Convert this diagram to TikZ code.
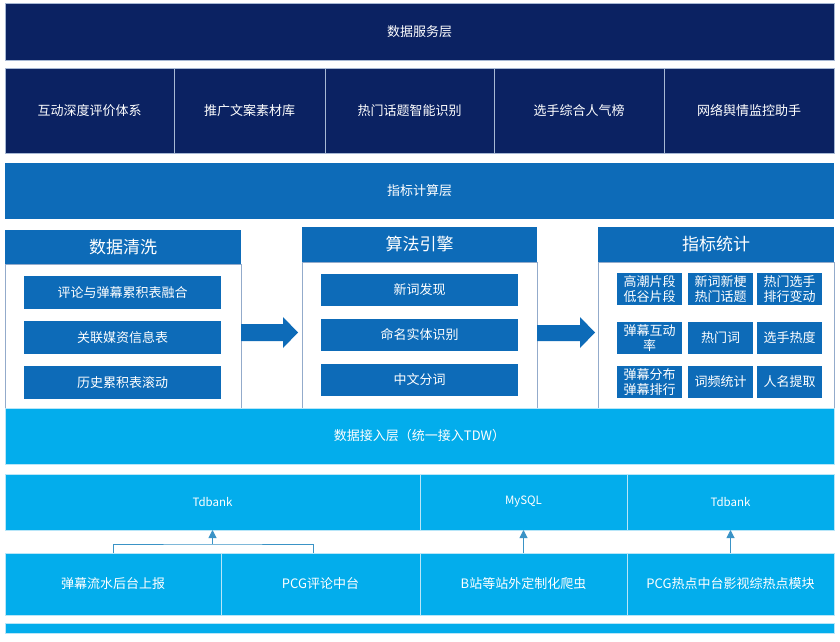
\documentclass[tikz,border=0pt]{standalone}
\usepackage{fontspec}
\newfontfamily\cjk{Noto Sans CJK SC}
\usetikzlibrary{arrows.meta}
\definecolor{navy}{HTML}{0B2262}
\definecolor{midblue}{HTML}{0D6BB8}
\definecolor{skyblue}{HTML}{03ADEC}
\definecolor{linkblue}{HTML}{3A93C6}
\definecolor{panelline}{HTML}{93ABCB}
\definecolor{navyline}{HTML}{A7B8D4}
\definecolor{skyline}{HTML}{B8E6F8}
\tikzset{
  cell/.style={inner sep=0pt, outer sep=0pt, anchor=north west, text=white, align=center,
    font=\cjk\fontsize{13}{16}\selectfont},
  navycell/.style={cell, fill=navy, draw=navyline, line width=0.7pt},
  midcell/.style={cell, fill=midblue},
  skycell/.style={cell, fill=skyblue, draw=skyline, line width=0.7pt},
  lat/.style={font=\cjk\fontsize{11.5}{14}\selectfont},
  header/.style={cell, fill=midblue, font=\cjk\fontsize{17}{20}\selectfont},
  panelbody/.style={inner sep=0pt, outer sep=0pt, anchor=north west, fill=white, draw=panelline, line width=0.7pt},
  gridcell/.style={midcell, font=\cjk\fontsize{13}{15}\selectfont, minimum width=65pt, minimum height=32pt},
  link/.style={draw=linkblue, line width=1pt},
  uparrow/.style={link, -{Triangle[width=8pt,length=8pt]}},
  blockarrow/.style={fill=midblue}
}
\begin{document}
\begin{tikzpicture}[x=1pt,y=-1pt]
\useasboundingbox (0,0) rectangle (840,642);
\fill[white] (0,0) rectangle (840,642);

% Data service layer
\node[navycell, minimum width=829pt, minimum height=57pt] (svc) at (5,3) {数据服务层};
\node[navycell, minimum width=169pt, minimum height=85pt] (s1) at (5,68) {互动深度评价体系};
\node[navycell, minimum width=151pt, minimum height=85pt] (s2) at (174,68) {推广文案素材库};
\node[navycell, minimum width=169pt, minimum height=85pt] (s3) at (325,68) {热门话题智能识别};
\node[navycell, minimum width=170pt, minimum height=85pt] (s4) at (494,68) {选手综合人气榜};
\node[navycell, minimum width=170pt, minimum height=85pt] (s5) at (664,68) {网络舆情监控助手};

% Indicator computing layer
\node[midcell, minimum width=829pt, minimum height=56pt] (calc) at (5,163) {指标计算层};

% Panel 1
\node[panelbody, minimum width=236pt, minimum height=144pt] (p1body) at (5,264) {};
\node[header, minimum width=236pt, minimum height=34pt] (p1head) at (5,230) {数据清洗};
\node[midcell, minimum width=197pt, minimum height=33pt] (c1) at (24,276) {评论与弹幕累积表融合};
\node[midcell, minimum width=197pt, minimum height=33pt] (c2) at (24,321) {关联媒资信息表};
\node[midcell, minimum width=197pt, minimum height=33pt] (c3) at (24,366) {历史累积表滚动};

% Panel 2
\node[panelbody, minimum width=235pt, minimum height=146pt] (p2body) at (302,262) {};
\node[header, minimum width=235pt, minimum height=35pt] (p2head) at (302,227) {算法引擎};
\node[midcell, minimum width=197pt, minimum height=32pt] (a1) at (321,274) {新词发现};
\node[midcell, minimum width=197pt, minimum height=32pt] (a2) at (321,319) {命名实体识别};
\node[midcell, minimum width=197pt, minimum height=32pt] (a3) at (321,364) {中文分词};

% Panel 3
\node[panelbody, minimum width=236pt, minimum height=146pt] (p3body) at (598,262) {};
\node[header, minimum width=236pt, minimum height=35pt] (p3head) at (598,227) {指标统计};
\node[gridcell] (g11) at (617,273) {高潮片段\\低谷片段};
\node[gridcell] (g12) at (688,273) {新词新梗\\热门话题};
\node[gridcell] (g13) at (757,273) {热门选手\\排行变动};
\node[gridcell] (g21) at (617,322) {弹幕互动\\率};
\node[gridcell] (g22) at (688,322) {热门词};
\node[gridcell] (g23) at (757,322) {选手热度};
\node[gridcell] (g31) at (617,366) {弹幕分布\\弹幕排行};
\node[gridcell] (g32) at (688,366) {词频统计};
\node[gridcell] (g33) at (757,366) {人名提取};

% Block arrows
\fill[blockarrow] (241,324) -- (283,324) -- (283,317) -- (298,332.5) -- (283,348) -- (283,341) -- (241,341) -- cycle;
\fill[blockarrow] (537,325) -- (580,325) -- (580,317) -- (595,332.5) -- (580,348) -- (580,341) -- (537,341) -- cycle;

% Data access layer
\node[skycell, minimum width=829pt, minimum height=56pt] (acc) at (5,408) {数据接入层（统一接入TDW）};
\node[skycell, lat, minimum width=415pt, minimum height=56pt] (tdb1) at (5,474) {Tdbank};
\node[skycell, lat, minimum width=207pt, minimum height=56pt] (mysql) at (420,474) {MySQL};
\node[skycell, lat, minimum width=207pt, minimum height=56pt] (tdb2) at (627,474) {Tdbank};

\node[skycell, minimum width=216pt, minimum height=62pt] (src1) at (5,553) {弹幕流水后台上报};
\node[skycell, minimum width=199pt, minimum height=62pt] (src2) at (221,553) {PCG评论中台};
\node[skycell, minimum width=207pt, minimum height=62pt] (src3) at (420,553) {B站等站外定制化爬虫};
\node[skycell, minimum width=207pt, minimum height=62pt] (src4) at (627,553) {PCG热点中台影视综热点模块};

\node[skycell, minimum width=829pt, minimum height=10pt] (strip) at (5,623) {};

% Connectors
\coordinate (join) at (212.5,544);
\coordinate (src2top) at ([xshift=-7pt]src2.north);
\draw[link] (src1.north) |- (join) -| (src2top);
\draw[uparrow] (join) -- (tdb1.south);
\draw[uparrow] (src3.north) -- (mysql.south);
\draw[uparrow] (src4.north) -- (tdb2.south);
\end{tikzpicture}
\end{document}
